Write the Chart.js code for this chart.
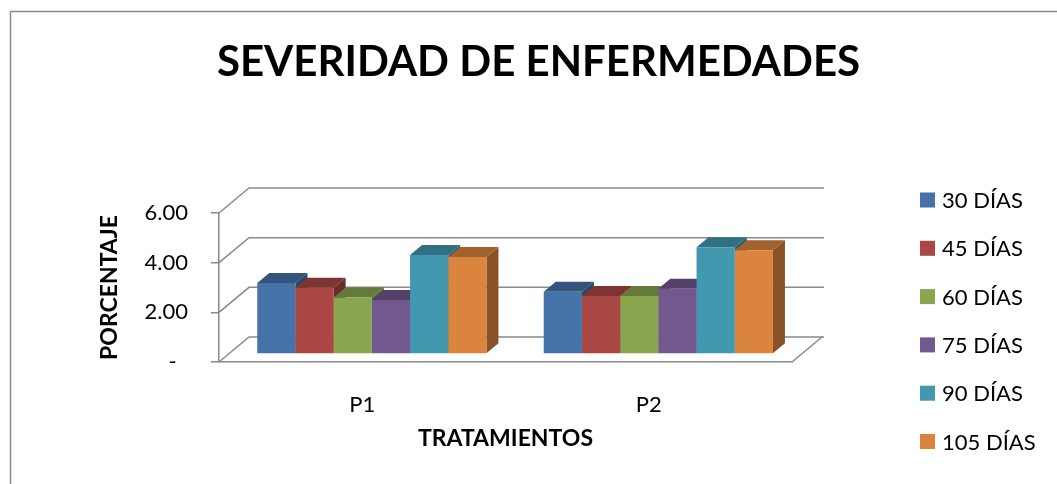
<!DOCTYPE html>
<html lang="es">
<head>
  <meta charset="UTF-8" />
  <title>Severidad de enfermedades</title>
  <script src="https://cdn.jsdelivr.net/npm/chart.js"></script>
  <style>
    html, body { margin: 0; padding: 0; background: #fff; }
    .chart-wrapper { width: 1057px; height: 484px; }
  </style>
</head>
<body>
<div class="chart-wrapper">
  <canvas id="severidadChart" width="1057" height="484"></canvas>
</div>

<script>
  // Datos
  const tratamientos = ['P1', 'P2'];
  const etiquetasDias = ['30 DÍAS', '45 DÍAS', '60 DÍAS', '75 DÍAS', '90 DÍAS', '105 DÍAS'];
  const dias30 = [2.86, 2.51];
  const dias45 = [2.67, 2.34];
  const dias60 = [2.28, 2.34];
  const dias75 = [2.17, 2.63];
  const dias90 = [3.99, 4.30];
  const dias105 = [3.91, 4.18];
  const marcasY = [0, 2, 4, 6];

  const valores = [dias30, dias45, dias60, dias75, dias90, dias105];
  const colores = ['#4572A7', '#AA4643', '#89A54E', '#71588F', '#4198AF', '#DB843D'];

  // efecto 3D: desplazamiento de las paredes y de las barras
  const DX = 30, DY = -25;
  const PROF_BARRA = 0.32;
  const BDX = 12, BDY = -10;
  const GRIS = '#8a8a8a';

  function oscurecer(hex, f) {
    const n = parseInt(hex.slice(1), 16);
    const r = Math.round(((n >> 16) & 255) * f);
    const g = Math.round(((n >> 8) & 255) * f);
    const b = Math.round((n & 255) * f);
    return `rgb(${r},${g},${b})`;
  }

  const efecto3d = {
    id: 'efecto3d',
    beforeDraw(chart) {
      const ctx = chart.ctx;
      ctx.save();
      ctx.fillStyle = '#fff';
      ctx.fillRect(0, 0, chart.width, chart.height);
      // marco del gráfico
      ctx.strokeStyle = GRIS;
      ctx.lineWidth = 1.5;
      ctx.beginPath();
      ctx.moveTo(10.5, chart.height);
      ctx.lineTo(10.5, 11.5);
      ctx.lineTo(chart.width, 11.5);
      ctx.stroke();
      ctx.restore();
    },
    beforeDatasetsDraw(chart) {
      const { ctx, chartArea: a, scales: { y } } = chart;
      ctx.save();
      ctx.strokeStyle = GRIS;
      ctx.lineWidth = 1.5;
      ctx.beginPath();
      marcasY.forEach(v => {
        const py = y.getPixelForValue(v);
        ctx.moveTo(a.left, py);
        ctx.lineTo(a.left + DX, py + DY);
        ctx.lineTo(a.right + DX + 2, py + DY);
      });
      ctx.moveTo(a.right, a.bottom);
      ctx.lineTo(a.right + DX, a.bottom + DY);
      ctx.stroke();
      ctx.restore();

      // caras laterales y superiores, de izquierda a derecha
      ctx.save();
      ctx.translate(PROF_BARRA * DX, PROF_BARRA * DY);
      const barras = [];
      chart.data.datasets.forEach((ds, i) => {
        chart.getDatasetMeta(i).data.forEach(el => {
          barras.push({ p: el.getProps(['x', 'y', 'base', 'width'], true), color: ds.backgroundColor });
        });
      });
      barras.sort((m, n) => m.p.x - n.p.x);
      barras.forEach(({ p, color }) => {
        const l = p.x - p.width / 2, r = p.x + p.width / 2;
        ctx.fillStyle = oscurecer(color, 0.63);
        ctx.beginPath();
        ctx.moveTo(r, p.y);
        ctx.lineTo(r + BDX, p.y + BDY);
        ctx.lineTo(r + BDX, p.base + BDY);
        ctx.lineTo(r, p.base);
        ctx.closePath();
        ctx.fill();
        ctx.fillStyle = oscurecer(color, 0.74);
        ctx.beginPath();
        ctx.moveTo(l, p.y);
        ctx.lineTo(l + BDX, p.y + BDY);
        ctx.lineTo(r + BDX, p.y + BDY);
        ctx.lineTo(r, p.y);
        ctx.closePath();
        ctx.fill();
      });
      // se deja el desplazamiento para las caras frontales (Chart.js)
    },
    afterDatasetsDraw(chart) {
      chart.ctx.restore();
    },
    afterDraw(chart) {
      // leyenda a la derecha
      const ctx = chart.ctx;
      ctx.save();
      ctx.font = '22px Lato';
      ctx.textBaseline = 'middle';
      chart.data.datasets.forEach((ds, i) => {
        const yc = 200 + i * 48.3;
        ctx.fillStyle = ds.backgroundColor;
        ctx.fillRect(920, yc - 7.5, 15, 15);
        ctx.fillStyle = '#000';
        ctx.fillText(ds.label, 942, yc + 1);
      });
      ctx.restore();
    }
  };

  Chart.defaults.font.family = 'Lato';
  Chart.defaults.color = '#000';

  const dataSeveridad = {
    labels: tratamientos,
    datasets: etiquetasDias.map((lbl, i) => ({
      label: lbl,
      data: valores[i],
      backgroundColor: colores[i],
      borderWidth: 0,
      categoryPercentage: 0.8,
      barPercentage: 1.0
    }))
  };

  const configSeveridad = {
    type: 'bar',
    data: dataSeveridad,
    options: {
      responsive: false,
      animation: false,
      layout: { padding: { left: 20, right: 0, top: 0, bottom: 0 } },
      plugins: {
        legend: { display: false },
        tooltip: { enabled: false },
        title: {
          display: true,
          text: 'SEVERIDAD DE ENFERMEDADES',
          color: '#000',
          font: { size: 42, weight: 'bold' },
          padding: { top: 37, bottom: 125.6 }
        }
      },
      scales: {
        x: {
          grid: { display: false },
          border: { display: true, color: GRIS, width: 1.5 },
          ticks: { font: { size: 22 }, padding: 22 },
          title: { display: true, text: 'TRATAMIENTOS', font: { size: 23, weight: 'bold' }, padding: { top: 0, bottom: 32 } },
          afterFit(s) { s.height = 122; }
        },
        y: {
          min: 0,
          max: 6,
          ticks: {
            stepSize: 2,
            font: { size: 22 },
            padding: 23,
            callback: v => v === 0 ? '-  ' : v.toFixed(2)
          },
          grid: { drawOnChartArea: false, tickLength: 8, color: GRIS, lineWidth: 1.5 },
          border: { display: true, color: GRIS, width: 1.5 },
          title: { display: true, text: 'PORCENTAJE', font: { size: 23, weight: 'bold' }, padding: { top: 76, bottom: 0 } },
          afterFit(s) { s.width = 199; }
        },
        espacioLeyenda: {
          type: 'linear',
          position: 'right',
          grid: { display: false },
          border: { display: false },
          ticks: { display: false },
          afterFit(s) { s.width = 265; }
        }
      }
    },
    plugins: [efecto3d]
  };

  new Chart(document.getElementById('severidadChart'), configSeveridad);
</script>
</body>
</html>
